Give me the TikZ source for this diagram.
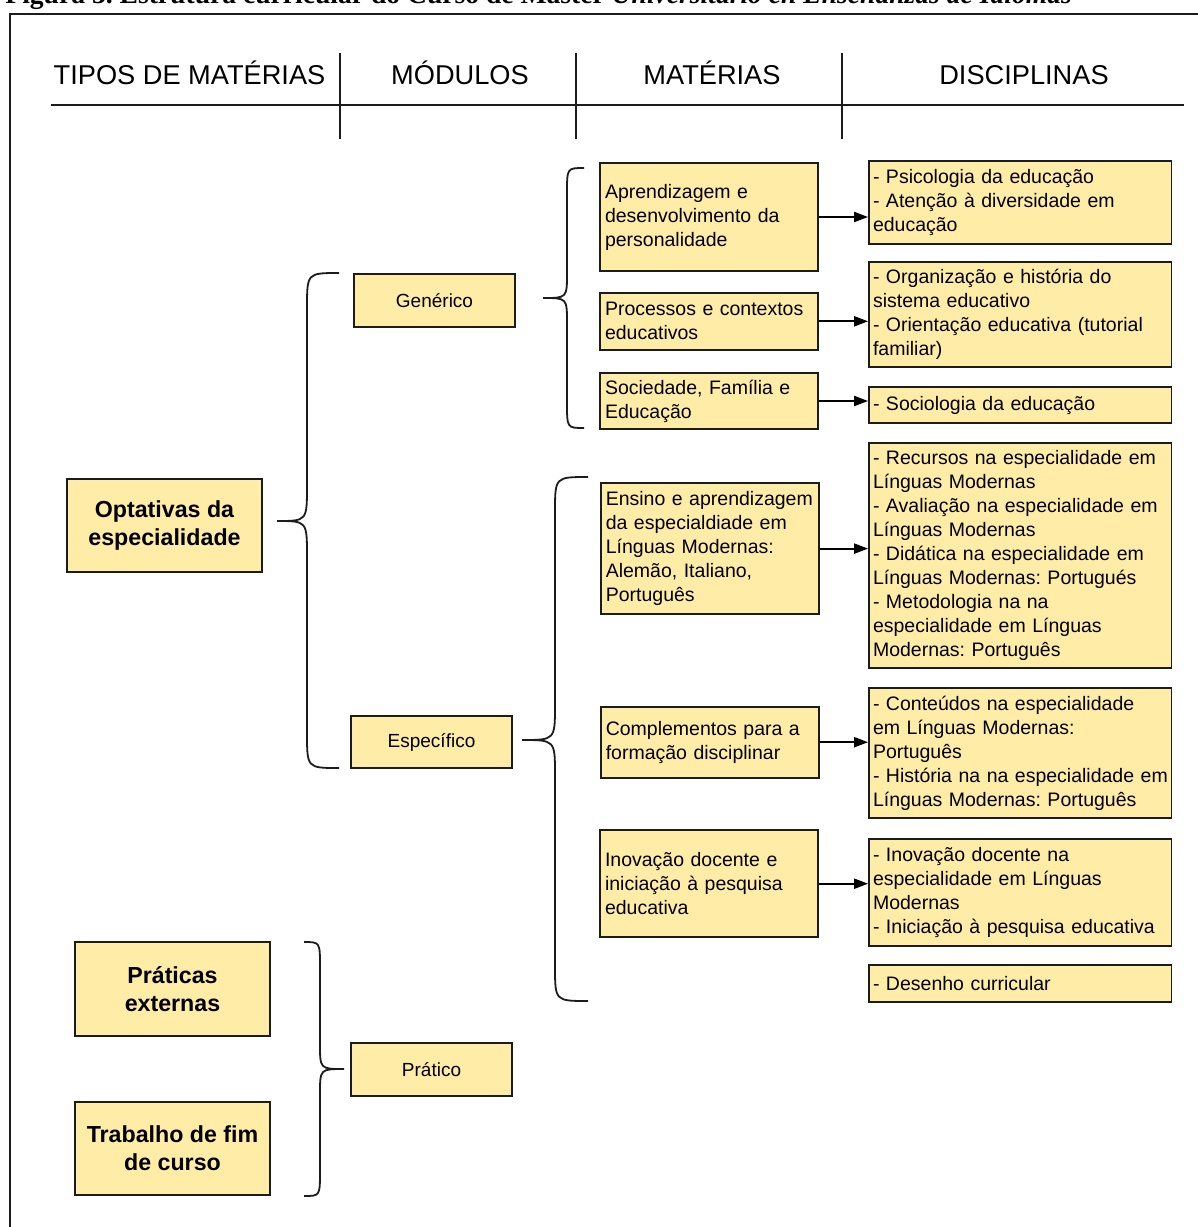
\documentclass[tikz,border=0pt]{standalone}
\usepackage{fontspec}
\setmainfont{Liberation Sans}
\newfontfamily\capfont{Liberation Serif}
\usetikzlibrary{arrows.meta}
\definecolor{boxfill}{RGB}{255,236,166}
\definecolor{ink}{RGB}{28,28,28}
\frenchspacing
\newcommand{\bracedraw}[7]{%
  \draw[bracestyle] (#1,#4) .. controls (#2,#4) .. (#2,{#4+#7}) -- (#2,{#5-#7})
    .. controls (#2,#5) .. (#3,#5) .. controls (#2,#5) .. (#2,{#5+#7})
    -- (#2,{#6-#7}) .. controls (#2,#6) .. (#1,#6);}
\newcommand{\oneline}[1]{\mbox{#1}}
\begin{document}
\begin{tikzpicture}[x=0.5pt,y=-0.5pt,
  box/.style={draw=ink, line width=0.9pt, fill=boxfill, inner sep=0pt, text=black},
  mat/.style={box, align=left, text width=104pt, inner xsep=2.5pt,
    font=\fontsize{9.75}{12}\selectfont\frenchspacing},
  dis/.style={box, align=left, text width=147.25pt, inner xsep=2pt,
    font=\fontsize{9.75}{12}\selectfont\frenchspacing},
  modbox/.style={box, align=center, minimum width=80.5pt,
    font=\fontsize{9.5}{11.5}\selectfont},
  bigbox/.style={box, align=center, minimum width=97.5pt,
    font=\fontsize{11.6}{14}\selectfont\bfseries},
  hdr/.style={anchor=base, inner sep=0pt, font=\fontsize{13.6}{16}\selectfont},
  rule/.style={draw=ink, line width=1pt},
  bracestyle/.style={draw=ink, line width=0.9pt},
  arr/.style={draw=black, line width=1pt, -{Triangle[length=7pt,width=5pt]}}]
\useasboundingbox (0,0) rectangle (1198,1227);
\begin{scope}
\clip (0,0) rectangle (1198,1227);
% caption (cut off at top, as in the reference)
\node[anchor=base west, inner sep=0pt, font=\capfont\bfseries\fontsize{13.8}{16}\selectfont]
  (cap) at (5,3.5) {Figura 3. Estrutura curricular do Curso de Máster \textit{Universitario en Enseñanzas de Idiomas}};
% frame
\draw[draw=ink, line width=0.8pt] (10,1240) -- (10,14) -- (1210,14);
\end{scope}
% header
\node[hdr] (h1) at (189.5,84) {TIPOS DE MATÉRIAS};
\node[hdr] (h2) at (460,84) {MÓDULOS};
\node[hdr] (h3) at (712,84) {MATÉRIAS};
\node[hdr] (h4) at (1024,84) {DISCIPLINAS};
\draw[rule] (50.5,105) -- (1183.5,105);
\draw[rule] (340,53) -- (340,139);
\draw[rule] (576,53) -- (576,139);
\draw[rule] (842,53) -- (842,139);
% tipos de materias
\node[bigbox, minimum height=46.5pt] (opt) at (164.5,525.5) {Optativas da\\especialidade};
\node[bigbox, minimum height=47pt] (pe) at (172.5,989) {Práticas\\externas};
\node[bigbox, minimum height=46.5pt] (tfc) at (172.5,1148.5) {Trabalho de fim\\de curso};
% modulos
\node[modbox, minimum height=26.5pt] (gen) at (434.5,300.5) {Genérico};
\node[modbox, minimum height=26pt] (esp) at (431.5,742) {Específico};
\node[modbox, minimum height=26.5pt] (prat) at (431.5,1069.5) {Prático};
% materias
\node[mat, minimum height=53.7pt] (m1) at (709,217) {Aprendizagem e\\desenvolvimento da\\personalidade};
\node[mat, minimum height=28.65pt] (m2) at (709,321.3) {Processos e contextos\\educativos};
\node[mat, minimum height=28.3pt] (m3) at (709,401) {Sociedade, Família e\\Educação};
\node[mat, minimum height=65.35pt] (m4) at (709.8,548.6) {\oneline{Ensino e aprendizagem}\\da especialdiade em\\Línguas Modernas:\\Alemão, Italiano,\\Português};
\node[mat, minimum height=35.5pt] (m5) at (709.8,742.2) {Complementos para a\\formação disciplinar};
\node[mat, minimum height=53.65pt] (m6) at (709,883.7) {Inovação docente e\\iniciação à pesquisa\\educativa};
% disciplinas
\node[dis, minimum height=41.65pt] (d1) at (1020.25,202.65) {- Psicologia da educação\\- Atenção à diversidade em\\educação};
\node[dis, minimum height=52.5pt] (d2) at (1020.25,314.2) {- Organização e história do\\sistema educativo\\\oneline{- Orientação educativa (tutorial}\\familiar)};
\node[dis, minimum height=18.3pt] (d3) at (1020.25,405) {- Sociologia da educação};
\node[dis, minimum height=112.5pt] (d4) at (1020.25,555.8) {\oneline{- Recursos na especialidade em}\\Línguas Modernas\\\oneline{- Avaliação na especialidade em}\\Línguas Modernas\\\oneline{- Didática na especialidade em}\\\oneline{Línguas Modernas: Portugués}\\- Metodologia na na\\especialidade em Línguas\\Modernas: Português};
\node[dis, minimum height=65pt] (d5) at (1020.25,753.3) {\oneline{- Conteúdos na especialidade}\\em Línguas Modernas:\\Português\\\oneline{- História na na especialidade em}\\\oneline{Línguas Modernas: Português}};
\node[dis, minimum height=53.35pt] (d6) at (1020.25,892.35) {- Inovação docente na\\especialidade em Línguas\\Modernas\\\oneline{- Iniciação à pesquisa educativa}};
\node[dis, minimum height=18.35pt] (d7) at (1020.25,983.35) {- Desenho curricular};
% arrows
\foreach \a/\b in {m1/d1, m2/d2, m3/d3, m4/d4, m5/d5, m6/d6}
  \draw[arr] (\a.east) -- (\a.east -| \b.west);
% braces
\bracedraw{339}{307}{277}{273}{521}{768}{35}
\bracedraw{584}{567}{543}{168}{298}{428}{25}
\bracedraw{588}{555}{522}{477}{740}{1001}{35}
\bracedraw{304}{320}{344}{942}{1069}{1196}{25}
\end{tikzpicture}
\end{document}
